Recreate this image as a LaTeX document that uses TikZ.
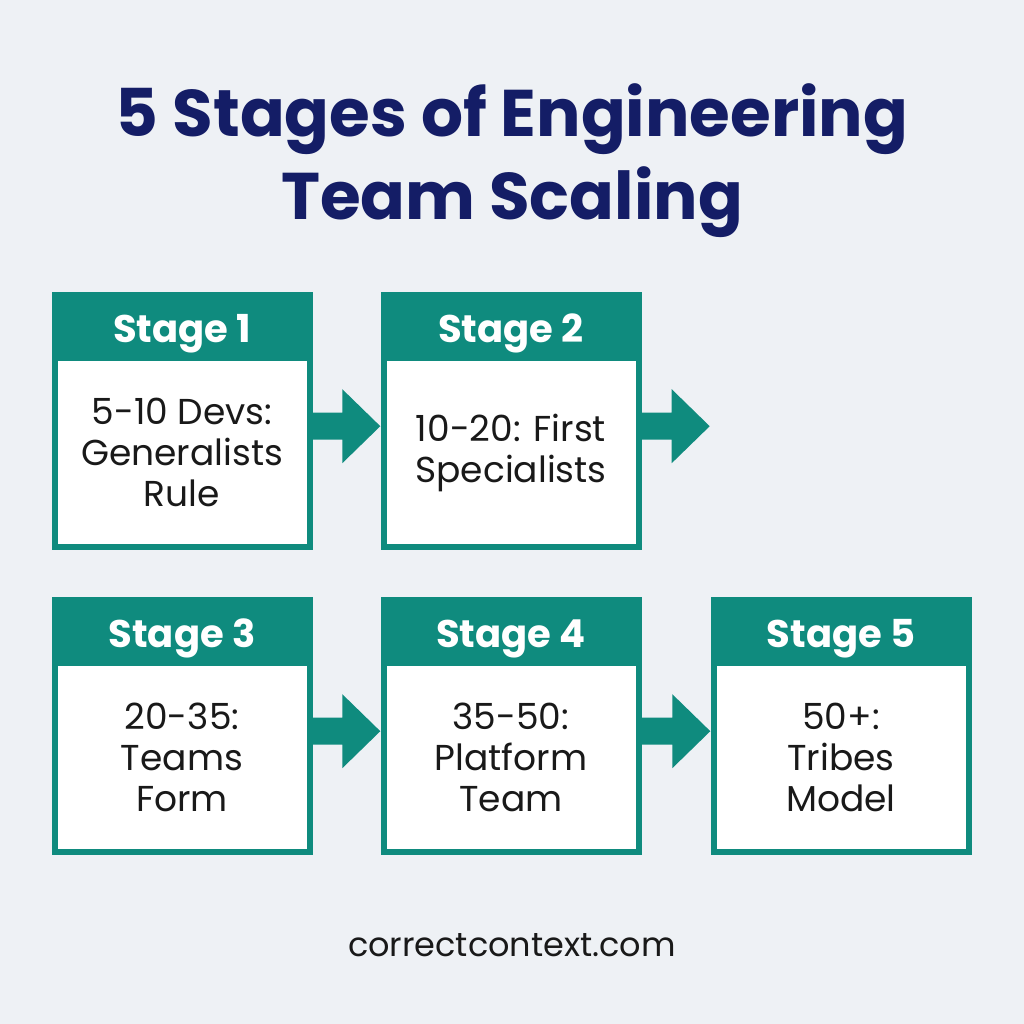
\documentclass[tikz,border=0pt]{standalone}
\usepackage{fontspec}
\setmainfont{Poppins}
\usepackage{xcolor}
\usetikzlibrary{positioning,arrows.meta,calc}
\definecolor{tealc}{HTML}{0F8B7E}
\definecolor{navy}{HTML}{141D66}
\definecolor{bgc}{HTML}{EEF1F5}
% block arrow from #1 to the tip #2
\newcommand{\flowarrow}[2]{\fill[tealc] ($(#1)+(0,13.5)$) -- ($(#2)+(-38,13.5)$) -- ($(#2)+(-38,37)$) -- (#2)
  -- ($(#2)+(-38,-37)$) -- ($(#2)+(-38,-13.5)$) -- ($(#1)+(0,-13.5)$) -- cycle;}

\begin{document}
\begin{tikzpicture}[x=1pt,y=1pt,
  frame/.style={fill=tealc,minimum width=261pt,minimum height=258pt,inner sep=0pt},
  body/.style={fill=white,minimum width=249pt,minimum height=183pt,inner sep=0pt,align=center,text=black!90,font=\fontsize{36}{41}\selectfont},
  head/.style={text=white,font=\bfseries\fontsize{38.5}{44}\selectfont},
  title/.style={text=navy,font=\bfseries\fontsize{66}{82}\selectfont,anchor=base}]
  \fill[bgc] (0,0) rectangle (1024,-1024);
  \node[title] (title) at (512,-137) {5 Stages of Engineering};
  \node[title] (title2) at (512,-220) {Team Scaling};
  \foreach \n/\x/\y/\txt in {1/182/292/{5-10 Devs:\\Generalists\\Rule},2/511/292/{10-20: First\\Specialists},
    3/182/597/{20-35:\\Teams\\Form},4/511/597/{35-50:\\Platform\\Team},5/841/597/{50+:\\Tribes\\Model}}{
    \node[frame,anchor=north] (f\n) at (\x,-\y) {};
    \node[head,anchor=base] (h\n) at ($(f\n.north)+(0,-50)$) {Stage \n};
    \node[body,anchor=south] (b\n) at ($(f\n.south)+(0,6)$) {\txt};
  }
  \coordinate (end2) at ($(f2.east)+(68,0)$);
  \flowarrow{[yshift=-5pt]f1.east}{[yshift=-5pt]f2.west}
  \flowarrow{[yshift=-5pt]f2.east}{[yshift=-5pt]end2}
  \flowarrow{[yshift=-5pt]f3.east}{[yshift=-5pt]f4.west}
  \flowarrow{[yshift=-5pt]f4.east}{[yshift=-5pt]f5.west}
  \node[font=\fontsize{33.5}{38}\selectfont,text=black!90,anchor=base] (site) at (512,-956) {correctcontext.com};
\end{tikzpicture}
\end{document}
